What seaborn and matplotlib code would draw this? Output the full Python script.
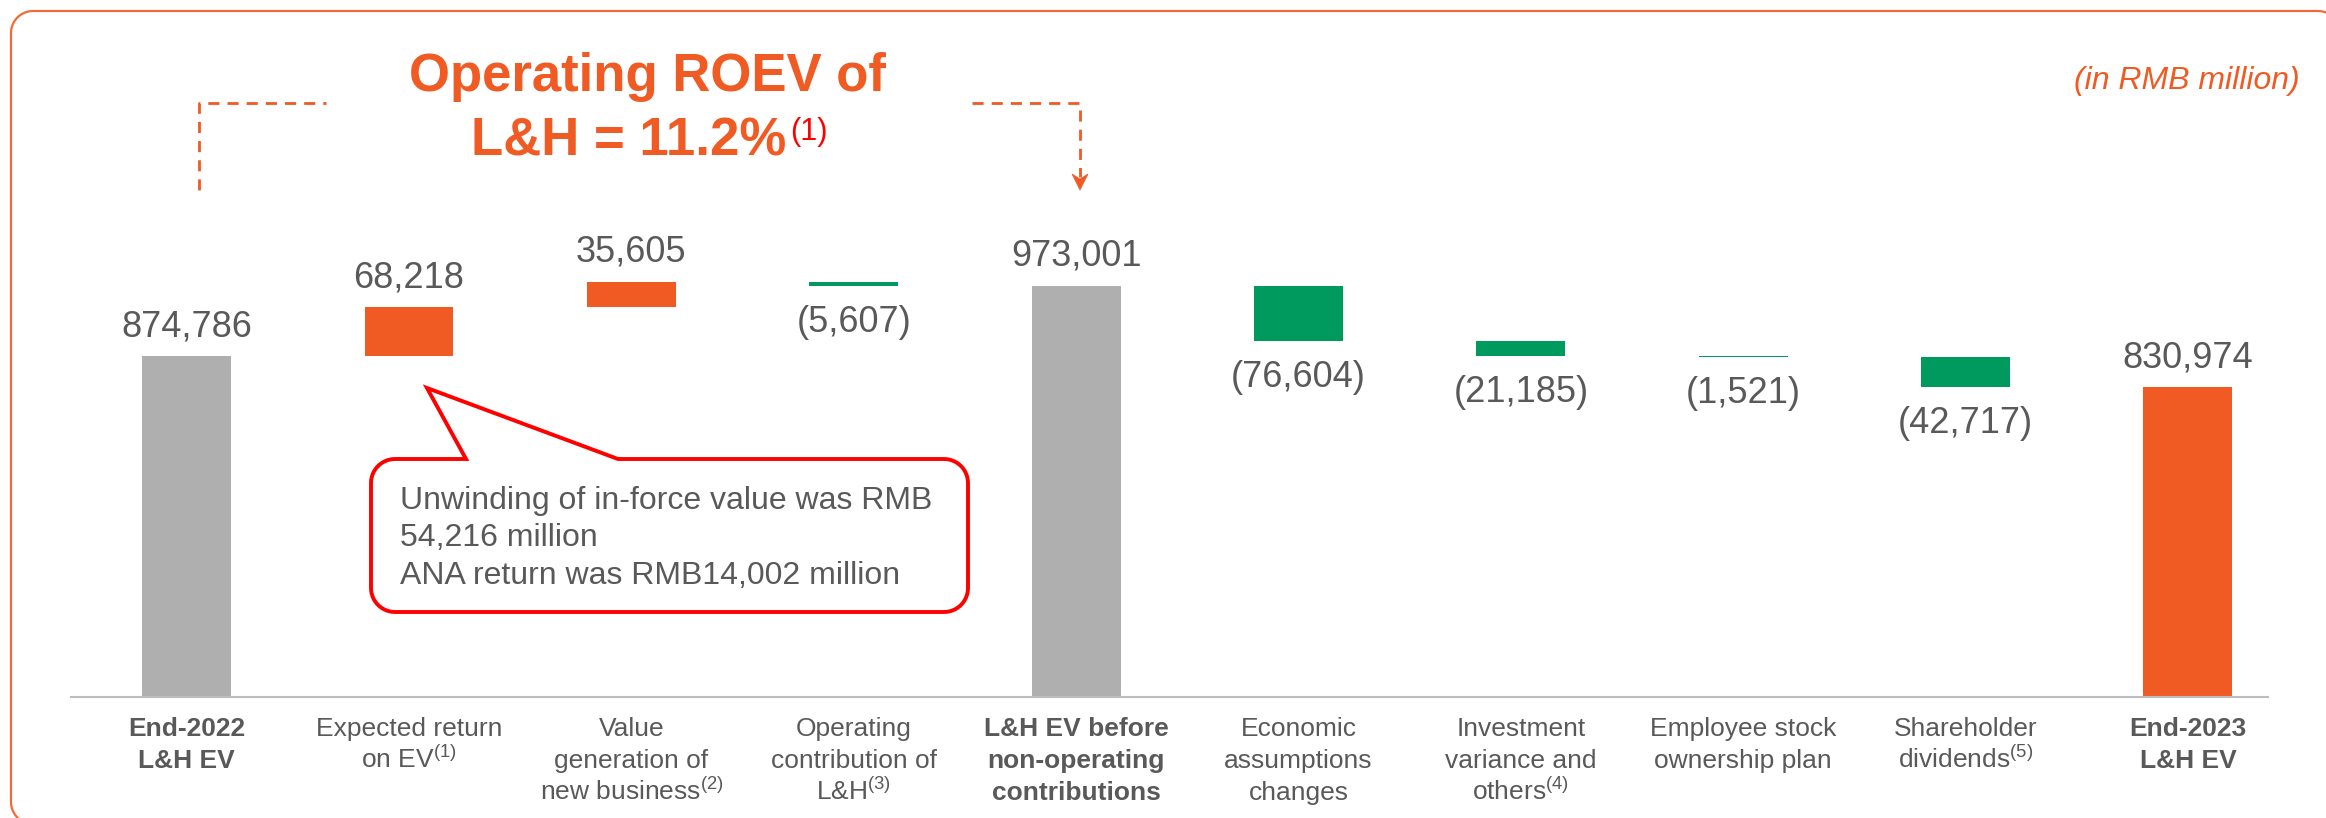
import numpy as np
import pandas as pd
import matplotlib
matplotlib.use("Agg")
import matplotlib.pyplot as plt
import matplotlib.transforms as mtransforms
from matplotlib.patches import Polygon
import seaborn as sns

# ---------------- data (RMB million) ----------------
categories = [
    "End-2022\nL&H EV",
    "Expected return\non EV$^{\\mathregular{(1)}}$",
    "Value\ngeneration of\nnew business$^{\\mathregular{(2)}}$",
    "Operating\ncontribution of\nL&H$^{\\mathregular{(3)}}$",
    "L&H EV before\nnon-operating\ncontributions",
    "Economic\nassumptions\nchanges",
    "Investment\nvariance and\nothers$^{\\mathregular{(4)}}$",
    "Employee stock\nownership plan",
    "Shareholder\ndividends$^{\\mathregular{(5)}}$",
    "End-2023\nL&H EV",
]
values = [874786, 68218, 35605, -5607, 973001, -76604, -21185, -1521, -42717, 830974]
is_total = [True, False, False, False, True, False, False, False, False, True]

title_line1 = "Operating ROEV of"
title_line2 = "L&H = 11.2%"
title_note = "(1)"
unit_text = "(in RMB million)"
callout_lines = [
    "Unwinding of in-force value was RMB",
    "54,216 million",
    "ANA return was RMB14,002 million",
]

# ---------------- waterfall geometry ----------------
bottoms, heights, tops, kinds = [], [], [], []
running = 0
for i, (v, tot) in enumerate(zip(values, is_total)):
    if tot:
        bottoms.append(0)
        heights.append(v)
        tops.append(v)
        running = v
        kinds.append("closing" if i == len(values) - 1 else "total")
    else:
        start, end = running, running + v
        bottoms.append(min(start, end))
        heights.append(abs(v))
        tops.append(max(start, end))
        running = end
        kinds.append("increase" if v > 0 else "decrease")

df = pd.DataFrame({"cat": categories, "height": heights, "kind": kinds})

GRAY = "#AFAFAF"
ORANGE = "#F05A23"
GREEN = "#009A5F"
TEXT = "#595959"
palette = {"total": GRAY, "increase": ORANGE, "decrease": GREEN, "closing": ORANGE}

# ---------------- figure ----------------
sns.set_theme(style="white")
plt.rcParams["font.family"] = ["Liberation Sans", "DejaVu Sans"]
plt.rcParams["mathtext.fontset"] = "custom"
plt.rcParams["mathtext.rm"] = "Liberation Sans"
plt.rcParams["mathtext.it"] = "Liberation Sans:italic"
plt.rcParams["mathtext.bf"] = "Liberation Sans:bold"

W, H = 2326, 818
fig = plt.figure(figsize=(W / 100, H / 100), dpi=100)
fig.patch.set_facecolor("white")
# pixel coordinates measured from the top-left corner of the figure
px = mtransforms.Affine2D().scale(1 / W, -1 / H).translate(0, 1) + fig.transFigure

ax_left, ax_right, ax_base, ax_top = 71, 2268, 697, 150
ax = fig.add_axes([ax_left / W, (H - ax_base) / H,
                   (ax_right - ax_left) / W, (ax_base - ax_top) / H])
ax.set_facecolor("none")

sns.barplot(data=df, x="cat", y="height", hue="kind", palette=palette,
            dodge=False, width=0.4, saturation=1, legend=False, ax=ax)

# lift each bar onto its running total
for p in ax.patches:
    idx = int(round(p.get_x() + p.get_width() / 2))
    p.set_y(bottoms[idx])
    p.set_linewidth(0)

y0 = 398000
scale = 0.000715  # pixels per RMB million
ax.set_ylim(y0, y0 + (ax_base - ax_top) / scale)
ax.set_xlim(-0.52, 9.36)
ax.set_xticks([])
ax.set_yticks([])
ax.set_xlabel("")
ax.set_ylabel("")
for s in ["top", "right", "left"]:
    ax.spines[s].set_visible(False)
ax.spines["bottom"].set_color("#BDBDBD")
ax.spines["bottom"].set_linewidth(1.5)

# value labels
for i, (v, tot) in enumerate(zip(values, is_total)):
    if tot or v > 0:
        ax.annotate(f"{abs(v):,}", xy=(i, tops[i]), xytext=(0, 20),
                    textcoords="offset pixels", ha="center", va="baseline",
                    fontsize=26, color=TEXT, annotation_clip=False)
    else:
        ax.annotate(f"({abs(v):,})", xy=(i, bottoms[i]), xytext=(0, -46),
                    textcoords="offset pixels", ha="center", va="baseline",
                    fontsize=26, color=TEXT, annotation_clip=False)

# category labels, one line at a time
xtrans = ax.get_xaxis_transform()
for i, (cat, tot) in enumerate(zip(categories, is_total)):
    for j, line in enumerate(cat.split("\n")):
        ax.annotate(line, xy=(i, 0), xycoords=xtrans, xytext=(0, -39 - 32 * j),
                    textcoords="offset pixels", ha="center", va="baseline",
                    fontsize=19, color=TEXT,
                    fontweight="bold" if tot else "normal",
                    annotation_clip=False)


def rounded_path(x0, y0_, x1, y1, r, n=14, tail=None):
    """Outline of a rounded rectangle (pixel coords, y down), optional tail on top edge."""
    pts = []
    def arc(cx, cy, a0, a1):
        for t in np.linspace(a0, a1, n):
            pts.append((cx + r * np.cos(t), cy + r * np.sin(t)))
    if tail is not None:
        (bx0, apx, apy, bx1) = tail
        pts += [(bx0, y0_), (apx, apy), (bx1, y0_)]
    arc(x1 - r, y0_ + r, -np.pi / 2, 0)
    arc(x1 - r, y1 - r, 0, np.pi / 2)
    arc(x0 + r, y1 - r, np.pi / 2, np.pi)
    arc(x0 + r, y0_ + r, np.pi, 1.5 * np.pi)
    return np.array(pts)


# outer frame
frame = Polygon(rounded_path(11, 11, 2340, 824, 22), closed=True, fill=False,
                ec="#F26A35", lw=1.6, transform=px, zorder=0)
fig.add_artist(frame)

# callout box with pointer
call = Polygon(rounded_path(371, 459, 968, 612, 24, tail=(466, 427, 388, 618)),
               closed=True, fc="white", ec="#FF0000", lw=2.8, joinstyle="miter",
               transform=px, zorder=5)
fig.add_artist(call)
for j, line in enumerate(callout_lines):
    fig.text(400, 509 + 37.5 * j, line, transform=px, ha="left", va="baseline",
             fontsize=23, color=TEXT, zorder=6)

# heading
fig.text(647, 91, title_line1, transform=px, ha="center", va="baseline",
         fontsize=38, fontweight="bold", color=ORANGE)
fig.text(471, 155, title_line2, transform=px, ha="left", va="baseline",
         fontsize=38, fontweight="bold", color=ORANGE)
fig.text(790, 140, title_note, transform=px, ha="left", va="baseline",
         fontsize=22, color="#FF0000")
fig.text(2300, 89, unit_text, transform=px, ha="right", va="baseline",
         fontsize=23, style="italic", color=ORANGE)

# dashed bracket around the operating items
dash = dict(color=ORANGE, lw=2.0, linestyle=(0, (4, 2.9)), transform=px)
fig.add_artist(plt.Line2D([199, 199, 326], [190, 103, 103], **dash))
fig.add_artist(plt.Line2D([972, 1080, 1080], [103, 103, 177], **dash))
fig.add_artist(Polygon([(1072, 174), (1080, 190), (1088, 174), (1080, 179)],
                       closed=True, fc=ORANGE, ec=ORANGE, lw=0.5, transform=px))

fig.savefig("out.png", dpi=100, facecolor="white")
